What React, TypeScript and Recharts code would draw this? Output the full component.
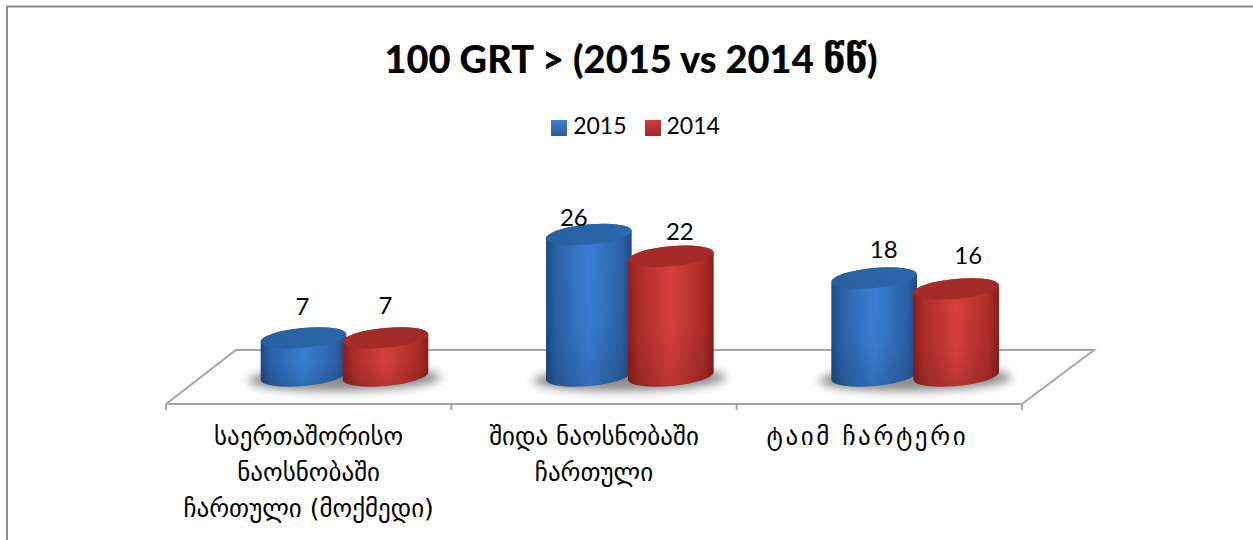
import React from "react";
import { BarChart, Bar, XAxis, YAxis, Legend, LabelList } from "recharts";

const categories = ["საერთაშორისო\nნაოსნობაში\nჩართული (მოქმედი)", "შიდა ნაოსნობაში\nჩართული", "ტაიმ ჩარტერი"];
const values2015 = [7, 26, 18];
const values2014 = [7, 22, 16];
const rows = categories.map((name, i) => ({ name, y2015: values2015[i], y2014: values2014[i] }));

const W = 1253, H = 540;
const DEPTH = 35.5;
const TILT = 5.3;
const RY = 10;
const GEO = "'DejaVu Sans'";
const LATIN = "Lato, 'DejaVu Sans'";
const labelNudge2015 = [[-1, -32], [-15, -18], [9.5, -30]];
const labelNudge2014 = [[0, -33], [9, -26], [12, -34]];
const tickNudge = [0, 0, -12];
const tickSpacing = [0, 0, 2.6];

function Cylinder(p: any) {
  const { x, y, width, height, tone } = p;
  const rx = width / 2;
  const cx = x + DEPTH + rx;
  const base = y + height;
  const rad = (TILT * Math.PI) / 180;
  const dx = rx * Math.cos(rad), dy = rx * Math.sin(rad);
  const body = `M${cx - dx},${y + dy} L${cx - dx},${base + dy} A${rx},${RY} ${-TILT} 0 0 ${cx + dx},${base - dy} L${cx + dx},${y - dy} A${rx},${RY} ${-TILT} 0 0 ${cx - dx},${y + dy} Z`;
  return (
    <g>
      {tone === "blue" && (
        <ellipse cx={cx + rx - 2} cy={base + 3} rx={width * 1.12} ry={12} fill="#555" opacity={0.68} filter="url(#soft)" transform={`rotate(-1 ${cx + rx} ${base})`} />
      )}
      <path d={body} fill={`url(#${tone}Body)`} />
      <path d={body} fill="url(#shade)" />
      <ellipse cx={cx} cy={y} rx={rx} ry={RY} fill={`url(#${tone}Top)`} transform={`rotate(${-TILT} ${cx} ${y})`} />
    </g>
  );
}

function barLabel(nudge: number[][]) {
  return (p: any) => {
    const [dx, dy] = nudge[p.index];
    return (
      <text x={p.x + p.width / 2 + DEPTH + dx} y={p.y + dy} textAnchor="middle" dominantBaseline="central" fontFamily={LATIN} fontSize={24} fill="#000">
        {p.value}
      </text>
    );
  };
}

function CategoryTick(p: any) {
  const { x, y, payload, index } = p;
  const band = (W - 166 - 231) / categories.length;
  const left = x - band / 2;
  const lines = String(payload.value).split("\n");
  return (
    <g>
      <line x1={left} x2={left} y1={404} y2={410} stroke="#a6a6a6" strokeWidth={2} />
      {index === categories.length - 1 && <line x1={left + band} x2={left + band} y1={404} y2={410} stroke="#a6a6a6" strokeWidth={2} />}
      {lines.map((t, i) => (
        <text key={i} x={x + tickNudge[index]} y={y + 33 + i * 36} textAnchor="middle" fontFamily={GEO} fontSize={25} letterSpacing={tickSpacing[index]} fill="#000">
          {t}
        </text>
      ))}
    </g>
  );
}

export default function App() {
  return (
    <div style={{ position: "absolute", left: 0, top: 0, width: W, height: H, background: "#fff", overflow: "hidden" }}>
      <BarChart width={W} height={H} data={rows} margin={{ top: 150, right: 231, bottom: 0, left: 166 }} barSize={86} barGap={-4}>
        <defs>
          <filter id="soft" x="-30%" y="-100%" width="160%" height="300%"><feGaussianBlur stdDeviation={5} /></filter>
          <linearGradient id="blueBody" x1="0" x2="1" y1="0" y2="0">
            <stop offset="0" stopColor="#1e4a84" /><stop offset="0.12" stopColor="#2a62a9" /><stop offset="0.5" stopColor="#3a7fd5" /><stop offset="0.88" stopColor="#2a62a9" /><stop offset="1" stopColor="#1e4a84" />
          </linearGradient>
          <linearGradient id="redBody" x1="0" x2="1" y1="0" y2="0">
            <stop offset="0" stopColor="#8a1d1b" /><stop offset="0.12" stopColor="#ad2c29" /><stop offset="0.5" stopColor="#d8403b" /><stop offset="0.88" stopColor="#ad2c29" /><stop offset="1" stopColor="#8a1d1b" />
          </linearGradient>
          <linearGradient id="shade" x1="0" x2="0" y1="0" y2="1">
            <stop offset="0" stopColor="#000" stopOpacity={0} /><stop offset="0.6" stopColor="#000" stopOpacity={0.02} /><stop offset="1" stopColor="#000" stopOpacity={0.14} />
          </linearGradient>
          <linearGradient id="blueTop" x1="0" x2="1" y1="0" y2="0">
            <stop offset="0" stopColor="#27609f" /><stop offset="1" stopColor="#2b68ab" />
          </linearGradient>
          <linearGradient id="redTop" x1="0" x2="1" y1="0" y2="0">
            <stop offset="0" stopColor="#a42c29" /><stop offset="1" stopColor="#a02a27" />
          </linearGradient>
          <linearGradient id="blueKey" x1="0" x2="0" y1="0" y2="1">
            <stop offset="0" stopColor="#3f7fd0" /><stop offset="1" stopColor="#2b5d9e" />
          </linearGradient>
          <linearGradient id="redKey" x1="0" x2="0" y1="0" y2="1">
            <stop offset="0" stopColor="#d33c38" /><stop offset="1" stopColor="#99292a" />
          </linearGradient>
        </defs>
        <path d="M7,540 V6.5 H1253" fill="none" stroke="#8a8a8a" strokeWidth={2} />
        <text x={631} y={58} textAnchor="middle" dominantBaseline="central" fontFamily={LATIN} fontWeight={900} fontSize={38} fill="#000">
          100 GRT {">"} (2015 vs 2014 <tspan fontFamily={GEO} fontWeight={700} fontSize={40}>წწ</tspan>)
        </text>
        <path d="M166,404 L236,350 H1094 L1022,404" fill="#fff" stroke="#a6a6a6" strokeWidth={2} />
        <XAxis dataKey="name" interval={0} height={136} tickLine={false} axisLine={{ stroke: "#a6a6a6", strokeWidth: 2 }} tick={<CategoryTick />} />
        <YAxis hide domain={[-5.15, 41.54]} />
        <Legend
          verticalAlign="middle"
          layout="horizontal"
          itemSorter={null}
          iconType="square"
          iconSize={16}
          wrapperStyle={{ position: "absolute", top: 111, left: 18, width: W, fontFamily: LATIN, fontSize: 23, textAlign: "center" }}
          formatter={(v: string) => <span style={{ color: "#000", marginLeft: 2, marginRight: 8 }}>{v}</span>}
        />
        <Bar dataKey="y2015" name="2015" fill="url(#blueKey)" isAnimationActive={false} shape={(p: any) => <Cylinder {...p} tone="blue" />}>
          <LabelList dataKey="y2015" content={barLabel(labelNudge2015)} />
        </Bar>
        <Bar dataKey="y2014" name="2014" fill="url(#redKey)" isAnimationActive={false} shape={(p: any) => <Cylinder {...p} tone="red" />}>
          <LabelList dataKey="y2014" content={barLabel(labelNudge2014)} />
        </Bar>
      </BarChart>
    </div>
  );
}
